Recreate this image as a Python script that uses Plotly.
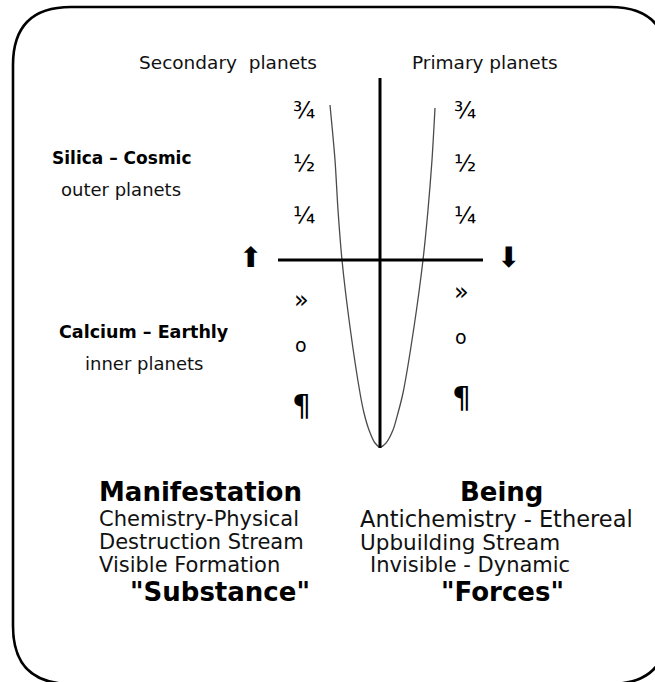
import plotly.graph_objects as go

# ---- data (diagram units: x = px offset from the vertical axis, y = height above the horizontal axis)
curve_x = [-50, -45, -42, -38, -30, -20, -16, -11, -5, 0, 6, 13, 18, 23, 34, 43, 48, 52, 55]
curve_y = [155, 100, 50, 0, -67, -133, -153, -170, -183, -187, -183, -170, -153, -133, -67, 0, 50, 100, 152]

upper_symbols = ["¾", "½", "¼"]
lower_symbols = ["»", "o", "¶"]

top_labels = ["Secondary  planets", "Primary planets"]
side_titles = ["Silica – Cosmic", "Calcium – Earthly"]
side_subtitles = ["outer planets", "inner planets"]
column_titles = ["Manifestation", "Being"]
left_lines = ["Chemistry-Physical", "Destruction Stream", "Visible Formation"]
right_lines = ["Antichemistry - Ethereal", "Upbuilding Stream", "Invisible - Dynamic"]
column_words = ['"Substance"', '"Forces"']

# ---- layout helpers (pixel -> diagram units)
CX, CY = 380, 260
def X(px):
    return px - CX
def Y(py):
    return CY - py

FONT = "DejaVu Sans"
fig = go.Figure()

fig.add_trace(go.Scatter(x=curve_x, y=curve_y, mode="lines",
                         line=dict(color="#4a4a4a", width=1.3, shape="spline", smoothing=0.8),
                         hoverinfo="skip", showlegend=False))

# axes cross
fig.add_shape(type="line", x0=0, x1=0, y0=Y(78), y1=Y(448), line=dict(color="black", width=3))
fig.add_shape(type="line", x0=X(278), x1=X(483), y0=0, y1=0, line=dict(color="black", width=3))

# rounded border
x0, x1, y0, y1, r = X(13), X(668), Y(7), Y(684), 58
path = (f"M {x0+r},{y0} L {x1-r},{y0} Q {x1},{y0} {x1},{y0-r} "
        f"L {x1},{y1+r} Q {x1},{y1} {x1-r},{y1} "
        f"L {x0+r},{y1} Q {x0},{y1} {x0},{y1+r} "
        f"L {x0},{y0-r} Q {x0},{y0} {x0+r},{y0} Z")
fig.add_shape(type="path", path=path, line=dict(color="black", width=2.6))

def ann(text, px, py, size, bold=False, anchor="center", color="black"):
    fig.add_annotation(x=X(px), y=Y(py), text=(f"<b>{text}</b>" if bold else text),
                       showarrow=False, xanchor=anchor, yanchor="middle",
                       font=dict(family=FONT, size=size, color=color))

# top labels
ann(top_labels[0], 228, 62, 18.5, color="#111")
ann(top_labels[1], 485, 62, 18.5, color="#111")

# side labels
ann(side_titles[0], 122, 158, 17, bold=True)
ann(side_subtitles[0], 121, 189, 18, color="#111")
ann(side_titles[1], 144, 332, 17.5, bold=True)
ann(side_subtitles[1], 144, 363, 18, color="#111")

# planet glyphs
up_y = [110, 163, 215]
for s, py in zip(upper_symbols, up_y):
    ann(s, 304, py, 23)
    ann(s, 465, py, 23)
low_left_y = [300, 345, 405]
low_right_y = [292, 337, 397]
low_sizes = [24, 19, 30]
for s, pl, pr, sz in zip(lower_symbols, low_left_y, low_right_y, low_sizes):
    ann(s, 301, pl, sz)
    ann(s, 461, pr, sz)

# arrows
ann("⬆", 250, 257, 28)
ann("⬇", 508, 257, 28)

# bottom text
ann(column_titles[0], 97, 492, 26, bold=True, anchor="left")
ann(column_titles[1], 501, 492, 26, bold=True)
for t, py in zip(left_lines, [519, 542, 565]):
    ann(t, 97, py, 21, anchor="left", color="#111")
for t, px, py, sz in zip(right_lines, [358, 358, 368], [519, 542, 565], [22.5, 21.5, 21]):
    ann(t, px, py, sz, anchor="left", color="#111")
ann(column_words[0], 220, 592, 26, bold=True)
ann(column_words[1], 502, 592, 26, bold=True)

fig.update_layout(
    width=655, height=682, margin=dict(l=0, r=0, t=0, b=0),
    paper_bgcolor="white", plot_bgcolor="white", showlegend=False,
    xaxis=dict(range=[X(0), X(655)], visible=False, fixedrange=True),
    yaxis=dict(range=[Y(682), Y(0)], visible=False, fixedrange=True),
)
fig.write_html("out.html", config={"displayModeBar": False, "staticPlot": True},
               post_script="document.body.style.margin='0';document.body.style.overflow='hidden';")
